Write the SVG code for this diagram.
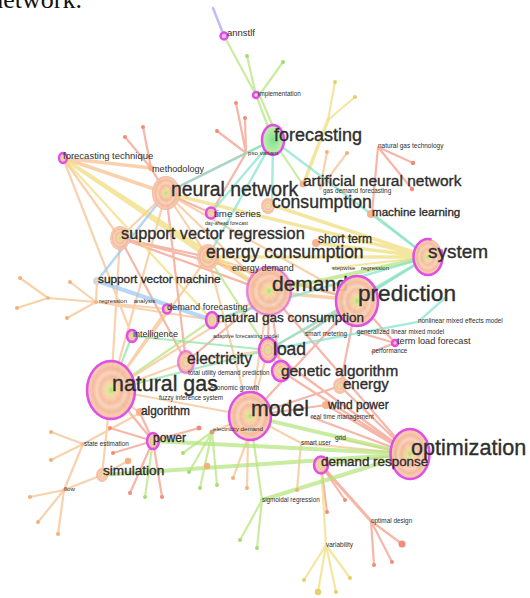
<svg xmlns="http://www.w3.org/2000/svg" width="530" height="598" viewBox="0 0 530 598">
<defs>
<radialGradient id="rings">
<stop offset="0" stop-color="#9fe38a"/>
<stop offset=".14" stop-color="#e6e290"/>
<stop offset=".3" stop-color="#f8cda6"/>
<stop offset=".45" stop-color="#f5b899"/>
<stop offset=".6" stop-color="#f8d2b8"/>
<stop offset=".75" stop-color="#f4b596"/>
<stop offset=".9" stop-color="#f7c8ad"/>
<stop offset="1" stop-color="#f3ae90"/>
</radialGradient>
<radialGradient id="green">
<stop offset="0" stop-color="#7fe08a"/>
<stop offset=".5" stop-color="#a4e8a0"/>
<stop offset="1" stop-color="#c9efb0"/>
</radialGradient>
</defs>
<style>
.e path{fill:none;stroke-linecap:round;stroke-opacity:.72}
.r{stroke:#f29a86}
.o{stroke:#f7c18d}
.y{stroke:#f1dc7a}
.g{stroke:#b4e47c}
.m{stroke:#8ee3a4}
.c{stroke:#82e2cf}
.b{stroke:#9ac7f2}
.v{stroke:#a6a2f2}
.dr{fill:#f08c78}
.do{fill:#f4b07a}
.dy{fill:#e8cf6a}
.dg{fill:#a6dc76}
.n{fill:url(#rings);fill-opacity:.92}
.k{stroke:#e04ee6;stroke-width:2.5}
.s{fill:#f5b48e}
text{font-family:"Liberation Sans",Arial,sans-serif;fill:#2e2e2e}
text.h{stroke:#2e2e2e;stroke-width:.35}
.cap{font-family:"Liberation Serif","Times New Roman",serif;fill:#111}
</style>
<rect width="530" height="598" fill="#fff"/>
<text class="cap" x="82" y="7.5" font-size="26" text-anchor="end">network.</text>

<!-- links between keywords -->
<g id="connectors" class="e">
<path class="v" stroke-width="2.5" d="M213,8L224,36"/>
<path class="r" stroke-width="2.2" d="M217,131L246,153M236,103L246,153M245,118L246,153M246,153L172,190M246,153L211,213M125,137L151,168M143,127L151,168M151,168L166,193M378,147L413,163M378,147L412,189M378,147L372,213M166,193L211,213M166,193L186,362M120,238L208,257M120,238L269,292M120,238L357,300M120,238L186,362M269,292L268,350M269,292L186,362M269,292L410,454M269,292L281,371M357,300L250,416M357,300L340,386M357,300L395,343M250,416L326,405M250,416L340,386M410,454L326,405M410,454L340,386M410,454L281,371M410,454L311,417M268,350L410,454M153,441L110,428M153,441L113,453M153,441L130,493M153,441L162,497M153,441L140,413M153,441L199,428M111,390L153,441M321,465L327,512M321,465L345,500M357,332L395,343M372,352L395,343M305,334L357,300M371,521L374,565M371,521L392,562M371,521L402,544"/>
<path class="r" stroke-width="3.2" d="M321,465L371,521"/>
<path class="o" stroke-width="2.2" d="M63,158L120,238M63,158L132,336M166,193L120,238M166,193L208,257M166,193L269,292M166,193L357,300M166,193L111,390M120,238L111,390M97,281L96,302M17,308L48,298M20,278L48,298M48,298L96,302M70,282L96,302M67,318L96,302M96,302L167,309M96,302L212,320M208,257L357,300M208,257L111,390M208,257L250,416M269,292L250,416M269,292L111,390M357,300L268,350M268,350L250,416M268,350L186,362M111,390L186,362M111,390L250,416M111,390L140,413M111,390L102,475M111,390L167,309M250,416L212,432M248,438L233,478M248,438L247,488M83,444L51,432M83,444L51,460M83,444L64,490M83,444L140,413M64,490L30,497M64,490L38,522M64,490L58,534M64,490L102,475M410,454L321,465M410,454L301,443M410,454L335,438M301,443L297,490M301,443L250,416M327,152L320,189M347,153L320,189M102,475L128,461"/>
<path class="o" stroke-width="3.5" d="M63,158L151,168M63,158L166,193M208,257L269,292M269,292L357,300"/>
<path class="y" stroke-width="2.2" d="M335,82L328,120M355,97L328,120M428,257L332,268M326,545L304,580M326,545L318,592M326,545L336,592M326,545L350,578M326,545L321,465M63,158L212,320"/>
<path class="y" stroke-width="3.5" d="M328,120L303,185M63,158L208,257M63,158L269,292M428,257L166,193M428,257L272,205M428,257L316,243M428,257L208,257"/>
<path class="g" stroke-width="2.2" d="M224,36L256,95M247,56L256,95M283,62L258,97M256,95L273,140M260,96L277,136M273,140L246,153M273,140L303,185M262,500L240,540M262,500L257,548M262,500L250,416M212,432L183,453M212,432L189,472M212,432L200,488M212,432L217,485M268,350L281,371M268,350L208,257M153,441L145,497M111,390L212,320M357,300L428,257M410,454L321,465"/>
<path class="g" stroke-width="4" d="M410,454L250,416M410,454L153,441M410,454L102,475M410,454L262,500M269,292L428,257"/>
<path class="m" stroke-width="2.2" d="M428,257L372,213M111,390L132,336M132,336L268,350M111,390L268,350"/>
<path class="c" stroke-width="2.4" d="M273,140L166,193M273,140L272,205M273,140L428,257M273,140L211,213M273,140L208,257M428,257L212,320M428,257L268,350M428,257L305,334M445,298L418,322L268,350"/>
<path class="b" stroke-width="2.5" d="M97,281L166,193"/>
<path class="b" stroke-width="4" d="M97,281L212,320"/>
</g>

<!-- leaf end points -->
<g id="leaf-dots">
<g class="dr">
<circle cx="217" cy="131" r="2"/><circle cx="236" cy="103" r="2"/><circle cx="245" cy="118" r="2"/><circle cx="125" cy="137" r="2"/><circle cx="143" cy="127" r="2"/><circle cx="413" cy="163" r="2.2"/><circle cx="412" cy="189" r="2.2"/><circle cx="110" cy="428" r="2"/><circle cx="113" cy="453" r="2"/><circle cx="130" cy="493" r="2"/><circle cx="162" cy="497" r="2"/><circle cx="199" cy="428" r="2.5"/><circle cx="374" cy="565" r="2"/><circle cx="392" cy="562" r="2"/><circle cx="402" cy="544" r="3.5"/><circle cx="327" cy="512" r="2"/><circle cx="345" cy="500" r="2"/>
</g>
<g class="do">
<circle cx="327" cy="152" r="2"/><circle cx="347" cy="153" r="2"/><circle cx="17" cy="308" r="2"/><circle cx="20" cy="278" r="2"/><circle cx="70" cy="282" r="2"/><circle cx="67" cy="318" r="2"/><circle cx="48" cy="298" r="1.8"/><circle cx="51" cy="432" r="2"/><circle cx="51" cy="460" r="2"/><circle cx="30" cy="497" r="2"/><circle cx="38" cy="522" r="2"/><circle cx="58" cy="534" r="2"/><circle cx="233" cy="478" r="2"/><circle cx="247" cy="488" r="2"/><circle cx="297" cy="490" r="2"/><circle cx="128" cy="461" r="3.2"/><circle cx="207" cy="466" r="3.2"/>
</g>
<g class="dy">
<circle cx="335" cy="82" r="2"/><circle cx="355" cy="97" r="2"/><circle cx="304" cy="580" r="2"/><circle cx="318" cy="592" r="3.2"/><circle cx="336" cy="592" r="2"/><circle cx="350" cy="578" r="2"/>
</g>
<g class="dg">
<circle cx="247" cy="56" r="2"/><circle cx="283" cy="62" r="2"/><circle cx="183" cy="453" r="2"/><circle cx="189" cy="472" r="2"/><circle cx="200" cy="488" r="2"/><circle cx="217" cy="485" r="2"/><circle cx="240" cy="540" r="2"/><circle cx="257" cy="548" r="2"/><circle cx="145" cy="497" r="2"/>
</g>
</g>

<!-- keyword nodes -->
<g id="natural-gas"><ellipse class="n k" cx="111" cy="390" rx="24" ry="29"/><text class="h" x="112" y="390.5" font-size="21.4">natural gas</text></g>
<g id="model"><ellipse class="n k" cx="250" cy="416" rx="21" ry="24"/><text class="h" x="251" y="415.5" font-size="21.3">model</text></g>
<g id="demand"><ellipse class="n k" cx="269" cy="291" rx="22" ry="24" stroke-opacity=".6"/><text class="h" x="272" y="290.5" font-size="21">demand</text></g>
<g id="prediction"><ellipse class="n k" cx="357" cy="301" rx="21" ry="25"/><text class="h" x="358" y="300.5" font-size="22.6">prediction</text></g>
<g id="optimization"><ellipse class="n k" cx="410" cy="454" rx="19.5" ry="25"/><text class="h" x="411" y="454.5" font-size="21.6">optimization</text></g>
<g id="system"><ellipse class="n k" cx="428" cy="257" rx="14.5" ry="18" stroke-dasharray="80 14"/><text class="h" x="428" y="258" font-size="19">system</text></g>
<g id="neural-network"><ellipse class="n" cx="166" cy="193" rx="14" ry="17"/><text class="h" x="171" y="196" font-size="19.4">neural network</text></g>
<g id="support-vector-regression"><ellipse class="n" cx="120" cy="238" rx="10" ry="12"/><text class="h" x="121" y="238.5" font-size="16.3">support vector regression</text></g>
<g id="energy-consumption"><ellipse class="n" cx="208" cy="257" rx="11" ry="13"/><text class="h" x="206" y="257.5" font-size="17.5">energy consumption</text></g>
<g id="forecasting"><ellipse cx="273" cy="140" rx="11" ry="15" fill="url(#green)" class="k"/><text class="h" x="274" y="141" font-size="18">forecasting</text></g>
<g id="consumption"><ellipse class="n" cx="268" cy="206" rx="7" ry="8"/><text class="h" x="272" y="208" font-size="17.6">consumption</text></g>
<g id="load"><ellipse class="n k" cx="268" cy="350" rx="9" ry="12" stroke-width="2"/><text class="h" x="273" y="354.5" font-size="17.5">load</text></g>
<g id="electricity"><ellipse class="n k" cx="186" cy="362" rx="8" ry="11" stroke-width="1.6" stroke-opacity=".6"/><text class="h" x="187" y="363.5" font-size="15.6">electricity</text></g>
<g id="genetic-algorithm"><ellipse class="n k" cx="281" cy="371" rx="9" ry="10"/><text class="h" x="281" y="375.5" font-size="15.4">genetic algorithm</text></g>
<g id="natural-gas-consumption"><ellipse class="n k" cx="212" cy="320" rx="6" ry="8" stroke-width="2"/><text class="h" x="217" y="321.5" font-size="13.5">natural gas consumption</text></g>
<g id="demand-response"><ellipse class="n k" cx="321" cy="465" rx="7" ry="8.5"/><text class="h" x="321" y="466" font-size="13.4">demand response</text></g>
<g id="artificial-neural-network"><circle class="s" cx="303" cy="184" r="3.5"/><text class="h" x="303" y="185.5" font-size="15.5">artificial neural network</text></g>
<g id="time-series"><ellipse class="n k" cx="211" cy="213" rx="5" ry="5.5" stroke-width="2"/><text x="214" y="216.5" font-size="9.7">time series</text></g>
<g id="power"><ellipse class="n k" cx="153" cy="441" rx="6" ry="8"/><text class="h" x="153" y="442" font-size="12.1">power</text></g>
<g id="intelligence"><ellipse class="n k" cx="132" cy="336" rx="5" ry="6" stroke-width="2"/><text x="133" y="336.5" font-size="9">intelligence</text></g>
<g id="demand-forecasting"><ellipse class="n k" cx="167" cy="309" rx="4" ry="4.5" stroke-width="1.6"/><text x="167" y="309.5" font-size="9.2">demand forecasting</text></g>
<g id="forecasting-technique"><ellipse class="n k" cx="63" cy="158" rx="4" ry="5" stroke-width="1.6"/><text x="63" y="158.5" font-size="9.5">forecasting technique</text></g>
<g id="annstlf"><circle cx="224" cy="36" r="3.5" fill="#e9c3f0" class="k" stroke-width="1.5"/><text x="227" y="35.5" font-size="9.5">annstlf</text></g>
<g id="implementation"><circle cx="256" cy="95" r="3" fill="#f0d6f0" class="k" stroke-width="1.4"/><text x="258" y="95.5" font-size="6.3">implementation</text></g>
<g id="simulation"><ellipse class="n" cx="102" cy="475" rx="6" ry="7"/><text class="h" x="103" y="475" font-size="13.6">simulation</text></g>
<g id="energy"><ellipse class="n" cx="340" cy="386" rx="7" ry="8"/><text class="h" x="343" y="388.5" font-size="15">energy</text></g>
<g id="algorithm"><circle class="s" cx="140" cy="412" r="4"/><text class="h" x="141" y="414.5" font-size="11.9">algorithm</text></g>
<g id="wind-power"><circle class="s" cx="326" cy="405" r="4"/><text class="h" x="328" y="408.5" font-size="12">wind power</text></g>
<g id="machine-learning"><circle class="s" cx="371" cy="214" r="4"/><text class="h" x="372" y="215.5" font-size="11.6">machine learning</text></g>
<g id="short-term"><circle class="s" cx="316" cy="243" r="4"/><text class="h" x="318" y="242.5" font-size="12">short term</text></g>
<g id="support-vector-machine"><circle cx="97" cy="281" r="4" fill="#d9d9d9"/><text class="h" x="98" y="282.5" font-size="11.8">support vector machine</text></g>
<g id="methodology"><circle class="s" cx="151" cy="168" r="3"/><text x="152" y="171.5" font-size="9.1">methodology</text></g>
<g id="energy-demand"><circle class="s" cx="232" cy="268" r="2"/><text x="232" y="270.5" font-size="8.9">energy demand</text></g>
<g id="term-load-forecast"><circle cx="395" cy="343" r="3" fill="#f5c0a0" class="k" stroke-width="1.4"/><text x="397" y="344" font-size="9.2">term load forecast</text></g>
<g id="pso-variant"><text x="248" y="155" font-size="6.2">pso variant</text></g>
<g id="natural-gas-technology"><text x="378" y="147.5" font-size="6.5">natural gas technology</text></g>
<g id="gas-demand-forecasting"><text x="323" y="192.5" font-size="6.4">gas demand forecasting</text></g>
<g id="day-ahead-forecast"><text x="205" y="225" font-size="5">day-ahead forecast</text></g>
<g id="stepwise-regression"><text x="332" y="270" font-size="6" word-spacing="4">stepwise regression</text></g>
<g id="regression-analysis"><circle class="s" cx="96" cy="302" r="2"/><text x="99" y="303" font-size="6" word-spacing="5">regression analysis</text></g>
<g id="nonlinear-mixed-effects-model"><text x="418" y="323" font-size="6.4">nonlinear mixed effects model</text></g>
<g id="adaptive-forecasting-model"><text x="213" y="338" font-size="5.5">adaptive forecasting model</text></g>
<g id="smart-metering"><text x="305" y="336" font-size="6.3">smart metering</text></g>
<g id="generalized-linear-mixed-model"><text x="357" y="334" font-size="6.3">generalized linear mixed model</text></g>
<g id="performance"><text x="372" y="353" font-size="6.3">performance</text></g>
<g id="total-utility-demand-prediction"><text x="188" y="375" font-size="6.3">total utility demand prediction</text></g>
<g id="economic-growth"><text x="210" y="390" font-size="6.5">economic growth</text></g>
<g id="fuzzy-inference-system"><text x="159" y="400" font-size="6.3">fuzzy inference system</text></g>
<g id="real-time-management"><text x="311" y="419" font-size="6.3">real time management</text></g>
<g id="electricity-demand"><circle cx="212" cy="432" r="2.5" fill="#d9a07a"/><text x="213" y="431" font-size="6.2">electricity demand</text></g>
<g id="state-estimation"><circle class="s" cx="83" cy="444" r="1.8"/><text x="84" y="446" font-size="6.4">state estimation</text></g>
<g id="smart-user"><text x="301" y="444.5" font-size="6.3">smart user</text></g>
<g id="grid"><text x="335" y="440" font-size="6.6">grid</text></g>
<g id="flow"><circle class="s" cx="64" cy="490" r="1.8"/><text x="64" y="491" font-size="6.2">flow</text></g>
<g id="sigmoidal-regression"><text x="262" y="501.5" font-size="6.3">sigmoidal regression</text></g>
<g id="optimal-design"><text x="371" y="523" font-size="6.4">optimal design</text></g>
<g id="variability"><text x="326" y="547" font-size="6.5">variability</text></g>
</svg>
